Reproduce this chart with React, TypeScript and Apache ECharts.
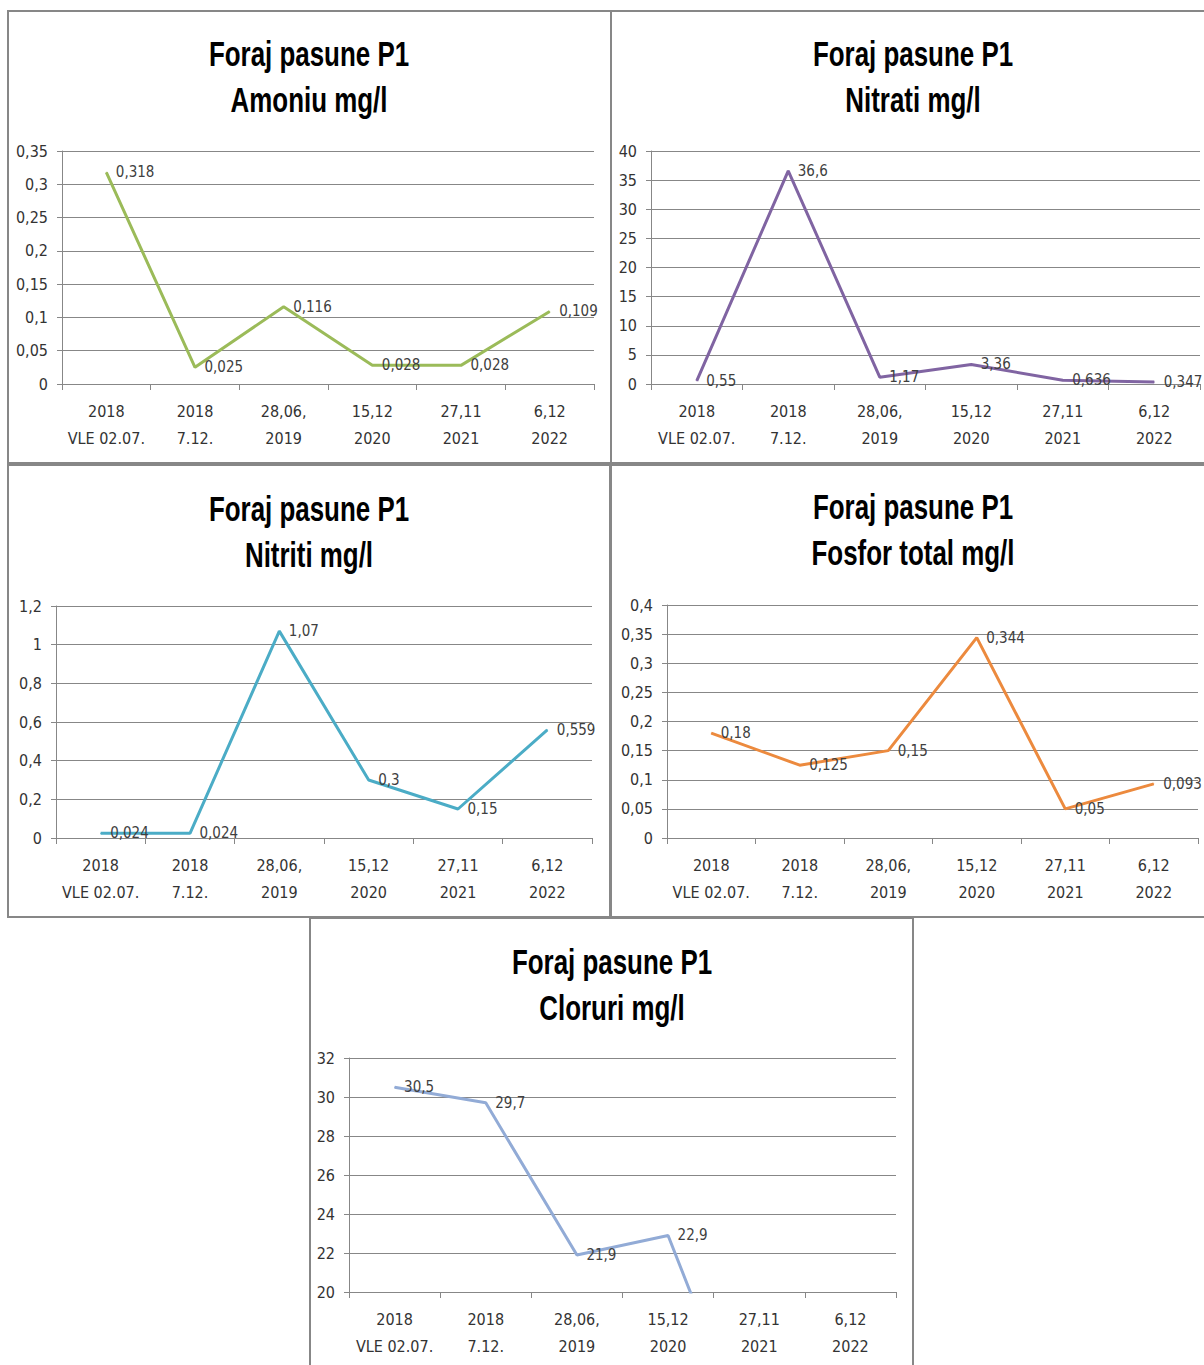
import React, { useEffect, useRef } from "react";
import * as echarts from "echarts";

const categories = [
  "2018\nVLE 02.07.",
  "2018\n7.12.",
  "28,06,\n2019",
  "15,12\n2020",
  "27,11\n2021",
  "6,12\n2022",
];

const amoniu = [0.318, 0.025, 0.116, 0.028, 0.028, 0.109];
const nitrati = [0.55, 36.6, 1.17, 3.36, 0.636, 0.347];
const nitriti = [0.024, 0.024, 1.07, 0.3, 0.15, 0.559];
const fosfor = [0.18, 0.125, 0.15, 0.344, 0.05, 0.093];
const cloruri = [30.5, 29.7, 21.9, 22.9, 11, 9.5];

const titleLine1 = "Foraj pasune P1";
const titleLine2 = [
  "Amoniu mg/l",
  "Nitrati mg/l",
  "Nitriti mg/l",
  "Fosfor total mg/l",
  "Cloruri mg/l",
];

const yRanges = [
  { min: 0, max: 0.35, interval: 0.05 },
  { min: 0, max: 40, interval: 5 },
  { min: 0, max: 1.2, interval: 0.2 },
  { min: 0, max: 0.4, interval: 0.05 },
  { min: 20, max: 32, interval: 2 },
];

const FONT = '"DejaVu Sans Condensed", "Liberation Sans", sans-serif';
const TITLE_FONT = 'bold 36px "Liberation Sans", Arial, sans-serif';

export default function App() {
  const ref = useRef<HTMLDivElement>(null);
  useEffect(() => {
    if (!ref.current) return;
    const chart = echarts.init(ref.current, null, { renderer: "svg" });
    const seriesData = [amoniu, nitrati, nitriti, fosfor, cloruri];
    const colors = ["#9bbb59", "#8064a2", "#4bacc6", "#ec8a3e", "#92abd6"];
    const grids = [
      { left: 62, top: 151, width: 532, height: 233 },
      { left: 651, top: 151, width: 549, height: 233 },
      { left: 56, top: 606, width: 536, height: 232 },
      { left: 667, top: 605, width: 531, height: 233 },
      { left: 349, top: 1058, width: 547, height: 234 },
    ];
    const titlePos = [
      { x: 309, y: 54 },
      { x: 913, y: 54 },
      { x: 309, y: 509 },
      { x: 913, y: 507 },
      { x: 612, y: 962 },
    ];
    const panels = [
      { x: 8, y: 11, w: 603, h: 452 },
      { x: 611, y: 11, w: 610, h: 452 },
      { x: 8, y: 465, w: 602, h: 452 },
      { x: 611, y: 465, w: 610, h: 452 },
      { x: 310, y: 918, w: 603, h: 470 },
    ];
    const fmt = (v: number) => String(+(+v).toFixed(4)).replace(".", ",");
    const gray = "#878787";

    const titleTexts: any[] = [];
    titlePos.forEach((p, i) => {
      [titleLine1, titleLine2[i]].forEach((t, k) => {
        titleTexts.push({
          type: "text",
          x: p.x,
          y: p.y + k * 46,
          scaleX: 0.72,
          silent: true,
          style: {
            text: t,
            font: TITLE_FONT,
            textAlign: "center",
            textVerticalAlign: "middle",
            align: "center",
            verticalAlign: "middle",
            fill: "#000",
          },
        });
      });
    });

    const option: any = {
      animation: false,
      backgroundColor: "#ffffff",
      graphic: [
        ...panels.map((p) => ({
          type: "rect",
          shape: { x: p.x, y: p.y, width: p.w, height: p.h },
          style: { fill: "none", stroke: gray, lineWidth: 2 },
          silent: true,
          z: 100,
        })),
        ...titleTexts,
      ],
      grid: grids.map((g) => ({ ...g, containLabel: false })),
      xAxis: grids.map((_, i) => ({
        type: "category",
        gridIndex: i,
        data: categories,
        boundaryGap: true,
        axisLine: { show: true, lineStyle: { color: gray, width: 1 } },
        axisTick: { show: true, interval: 0, length: 6, lineStyle: { color: gray } },
        axisLabel: {
          interval: 0,
          margin: 14,
          fontFamily: FONT,
          fontSize: 16,
          lineHeight: 27,
          color: "#333",
        },
        splitLine: { show: false },
      })),
      yAxis: yRanges.map((r, i) => ({
        type: "value",
        gridIndex: i,
        min: r.min,
        max: r.max,
        interval: r.interval,
        axisLine: { show: true, lineStyle: { color: gray, width: 1 } },
        axisTick: { show: true, length: 5, lineStyle: { color: gray } },
        axisLabel: {
          margin: 14,
          fontFamily: FONT,
          fontSize: 16,
          color: "#333",
          formatter: (v: number) => fmt(v),
        },
        splitLine: { show: true, lineStyle: { color: gray, width: 1 } },
      })),
      series: seriesData.map((d, i) => ({
        type: "line",
        xAxisIndex: i,
        yAxisIndex: i,
        data: d,
        symbol: "circle",
        symbolSize: 1,
        showSymbol: true,
        clip: true,
        lineStyle: { color: colors[i], width: 3 },
        itemStyle: { color: colors[i] },
        label: {
          show: true,
          position: "right",
          distance: 9,
          fontFamily: FONT,
          fontSize: 15,
          color: "#404040",
          formatter: (p: any) => fmt(p.value),
        },
      })),
    };
    chart.setOption(option);
    return () => chart.dispose();
  }, []);
  return (
    <div
      ref={ref}
      style={{ position: "absolute", left: 0, top: 0, width: 1204, height: 1365 }}
    />
  );
}
